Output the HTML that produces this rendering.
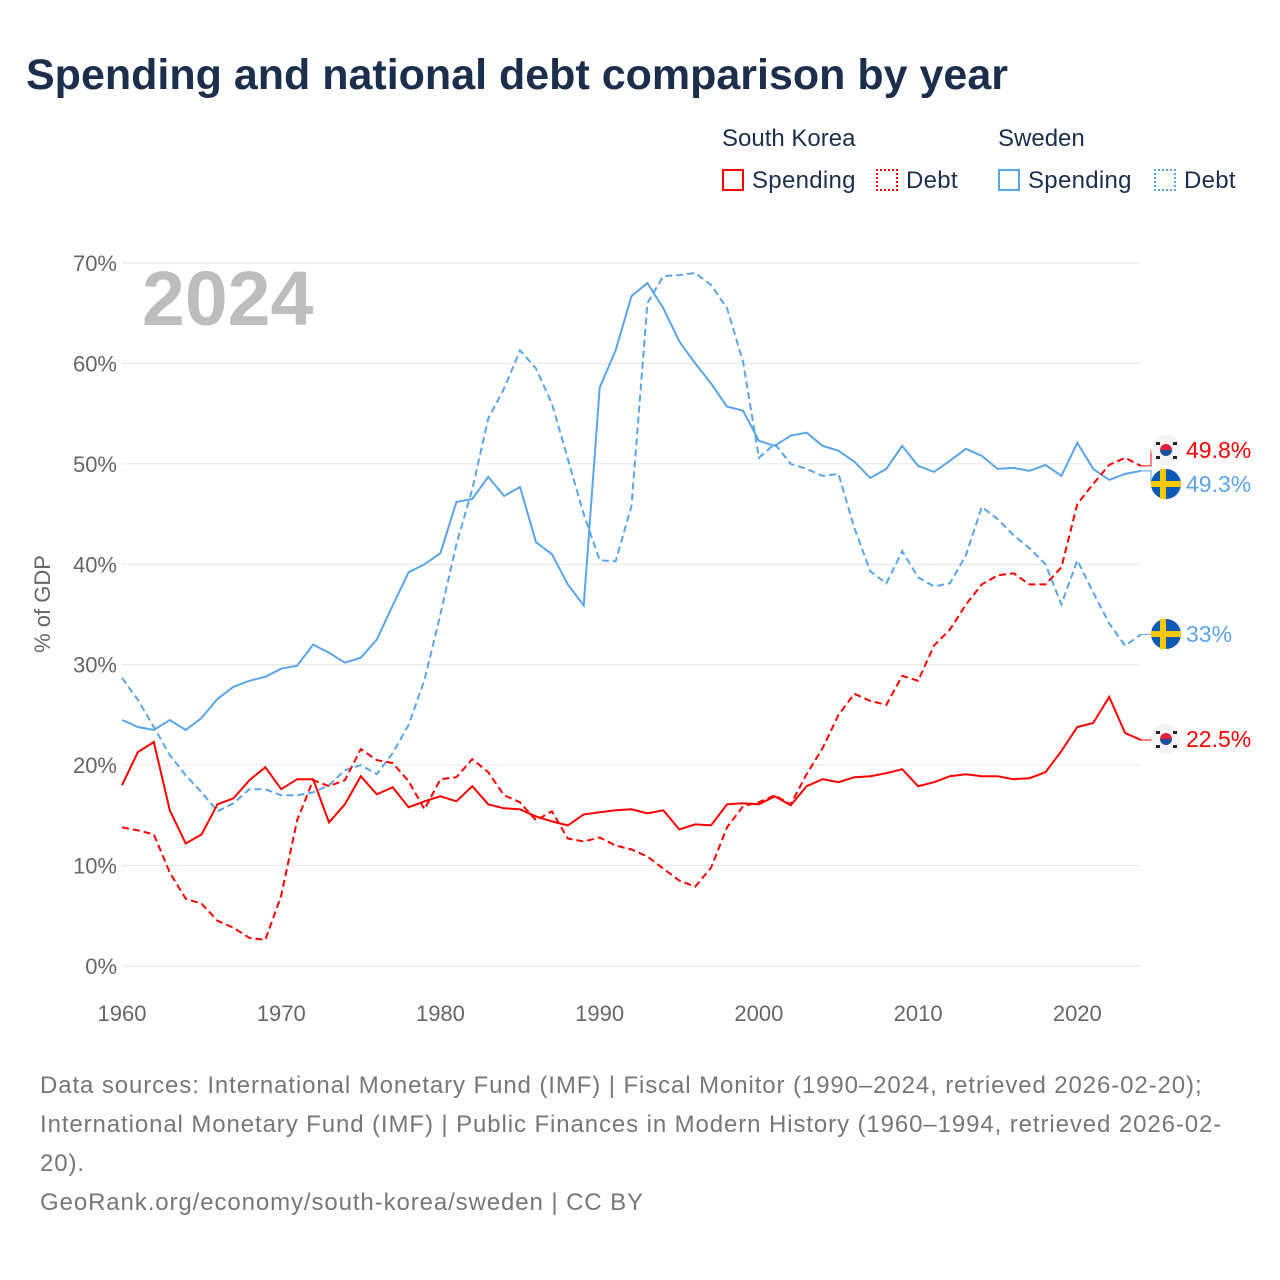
<!DOCTYPE html>
<html><head><meta charset="utf-8">
<style>
body{margin:0;background:#fff;font-family:"Liberation Sans",sans-serif;}
#wrap{position:relative;width:1280px;height:1280px;overflow:hidden;}
.t{position:absolute;white-space:nowrap;}
</style></head><body>
<div id="wrap">
<div class="t" style="left:26px;top:51px;font-size:43px;font-weight:bold;color:#1b2f4d;">Spending and national debt comparison by year</div>
<div class="t" style="left:722px;top:125px;font-size:24px;color:#1b2f4d;">South Korea</div>
<div class="t" style="left:998px;top:125px;font-size:24px;color:#1b2f4d;">Sweden</div>
<div class="t" style="left:722px;top:167px;font-size:24px;color:#1b2f4d;letter-spacing:0.3px"><span style="display:inline-block;width:22px;height:22px;border:2px solid #f00;box-sizing:border-box;vertical-align:-3px;margin-right:8px"></span>Spending</div>
<div class="t" style="left:876px;top:167px;font-size:24px;color:#1b2f4d;letter-spacing:0.3px"><span style="display:inline-block;width:22px;height:22px;border:2px dotted #f00;box-sizing:border-box;vertical-align:-3px;margin-right:8px"></span>Debt</div>
<div class="t" style="left:998px;top:167px;font-size:24px;color:#1b2f4d;letter-spacing:0.3px"><span style="display:inline-block;width:22px;height:22px;border:2px solid #5aa5ea;box-sizing:border-box;vertical-align:-3px;margin-right:8px"></span>Spending</div>
<div class="t" style="left:1154px;top:167px;font-size:24px;color:#1b2f4d;letter-spacing:0.3px"><span style="display:inline-block;width:22px;height:22px;border:2px dotted #5aa5ea;box-sizing:border-box;vertical-align:-3px;margin-right:8px"></span>Debt</div>
<svg id="chart" width="1280" height="1280" style="position:absolute;left:0;top:0"></svg>
<div class="t" style="left:40px;top:1066px;font-size:24px;line-height:39px;color:#777;letter-spacing:0.9px;">Data sources: International Monetary Fund (IMF) | Fiscal Monitor (1990–2024, retrieved 2026-02-20);<br>International Monetary Fund (IMF) | Public Finances in Modern History (1960–1994, retrieved 2026-02-<br>20).<br>GeoRank.org/economy/south-korea/sweden | CC BY</div>
</div>
<script>
const startYear = 1960;
const yTicks = [0,10,20,30,40,50,60,70];
const xTicks = [1960,1970,1980,1990,2000,2010,2020];
const seSpending = [24.5,23.8,23.5,24.5,23.5,24.7,26.6,27.8,28.4,28.8,29.6,29.9,32.0,31.2,30.2,30.7,32.5,35.9,39.2,40.0,41.1,46.2,46.5,48.7,46.8,47.7,42.2,41.0,38.0,35.9,57.6,61.3,66.7,68.0,65.5,62.2,60.0,58.0,55.7,55.3,52.3,51.8,52.8,53.1,51.8,51.3,50.2,48.6,49.5,51.8,49.8,49.2,50.3,51.5,50.8,49.5,49.6,49.3,49.9,48.8,52.1,49.5,48.4,49.0,49.3];
const seDebt = [28.7,26.5,23.8,21.0,19.0,17.3,15.4,16.2,17.6,17.6,17.0,17.0,17.3,18.0,19.5,20.0,19.1,21.2,24.0,28.5,35.0,42.0,47.5,54.5,57.5,61.3,59.5,56.0,50.5,45.0,40.4,40.3,45.8,66.0,68.7,68.8,69.0,67.8,65.5,60.2,50.6,52.0,50.0,49.5,48.8,49.0,43.6,39.3,38.1,41.3,38.7,37.8,38.1,40.9,45.7,44.5,42.9,41.6,40.0,36.0,40.4,37.2,34.1,31.9,33.0];
const krSpending = [18.0,21.3,22.3,15.5,12.2,13.1,16.1,16.7,18.5,19.8,17.6,18.6,18.6,14.3,16.1,18.9,17.1,17.8,15.8,16.4,16.9,16.4,17.9,16.1,15.7,15.6,14.9,14.4,14.0,15.1,15.3,15.5,15.6,15.2,15.5,13.6,14.1,14.0,16.1,16.2,16.1,16.9,16.0,17.9,18.6,18.3,18.8,18.9,19.2,19.6,17.9,18.3,18.9,19.1,18.9,18.9,18.6,18.7,19.3,21.4,23.8,24.2,26.8,23.2,22.5];
const krDebt = [13.8,13.5,13.1,9.3,6.7,6.2,4.5,3.8,2.8,2.6,7.0,14.5,18.5,17.9,18.5,21.6,20.5,20.2,18.4,15.6,18.6,18.8,20.6,19.3,17.0,16.3,14.5,15.4,12.7,12.4,12.8,12.0,11.6,10.9,9.7,8.5,7.9,9.8,13.8,15.9,16.3,17.0,16.1,19.1,21.7,25.0,27.1,26.4,26.0,28.9,28.4,31.9,33.5,36.0,38.0,38.9,39.1,38.0,38.0,39.7,46.0,48.0,49.9,50.6,49.8];

const NS='http://www.w3.org/2000/svg';
const svg=document.getElementById('chart');
const X=y=>122+(y-1960)*(1141-122)/64;
const Y=v=>966-v*(966-263)/70;
function mk(tag,attrs,parent){const e=document.createElementNS(NS,tag);for(const k in attrs)e.setAttribute(k,attrs[k]);(parent||svg).appendChild(e);return e;}

yTicks.forEach(v=>{
  const l=mk('line',{x1:122,x2:1141,y1:Y(v),y2:Y(v),stroke:'#e6e6e6','stroke-width':1});
  
  
  const t=mk('text',{x:117,y:Y(v)+8,'text-anchor':'end','font-size':22,fill:'#666','font-family':'Liberation Sans, sans-serif'});
  t.textContent=v+'%';
  
  
});
xTicks.forEach(yr=>{
  const t=mk('text',{x:X(yr),y:1021,'text-anchor':'middle','font-size':22,fill:'#666','font-family':'Liberation Sans, sans-serif'});
  t.textContent=yr;
  
  
});
const yt=mk('text',{x:0,y:0,transform:'translate(50,604) rotate(-90)','text-anchor':'middle','font-size':22,fill:'#666','font-family':'Liberation Sans, sans-serif'});
yt.textContent='% of GDP';


const yr=mk('text',{x:142,y:325,'font-size':77,'font-weight':'bold',fill:'#bdbdbd','font-family':'Liberation Sans, sans-serif'});
yr.textContent='2024';



function line(data,color,dash,name){
  const d=data.map((v,i)=>(i?'L':'M')+X(startYear+i).toFixed(1)+','+Y(v).toFixed(1)).join('');
  const p=mk('path',{d:d,fill:'none',stroke:color,'stroke-width':2,'stroke-dasharray':dash?'7,4':'none'});
  
  
}
line(seDebt,'#5aa5ea',true,'sweden-debt-line');
line(seSpending,'#5aa5ea',false,'sweden-spending-line');
line(krDebt,'#f00',true,'korea-debt-line');
line(krSpending,'#f00',false,'korea-spending-line');

function flag(cx,cy,type){
  const g=mk('g',{});
  
  
  if(type==='sweden'){
    mk('circle',{cx:cx,cy:cy,r:15,fill:'#0b5bb5'},g);
    mk('rect',{x:cx-15,y:cy-3,width:30,height:6,fill:'#f8c800'},g);
    mk('rect',{x:cx-6,y:cy-15,width:6,height:30,fill:'#f8c800'},g);
  }else{
    mk('circle',{cx:cx,cy:cy,r:15,fill:'#f4f4f4'},g);
    mk('path',{d:`M${cx-6},${cy} A6,6 0 0 1 ${cx+6},${cy}Z`,fill:'#e0203a'},g);
    mk('path',{d:`M${cx-6},${cy} A6,6 0 0 0 ${cx+6},${cy}Z`,fill:'#1a4fa0'},g);
    [[-10,-8],[7,-8],[-10,6],[7,6]].forEach(o=>mk('rect',{x:cx+o[0],y:cy+o[1],width:4,height:3,fill:'#222'},g));
  }
}
const last=seSpending.length-1, lx=X(startYear+last);
function endLabel(v,ly,color,type,txt,name){
  mk('path',{d:`M${lx},${Y(v)} H${lx+10} V${ly} H${lx+15}`,fill:'none',stroke:color,'stroke-width':1});
  flag(1166,ly,type);
  const t=mk('text',{x:1186,y:ly+8,'font-size':23,fill:color,'font-family':'Liberation Sans, sans-serif'});
  t.textContent=txt;
  
  
}
endLabel(krDebt[last],450,'#f00','korea',krDebt[last]+'%','korea-debt-end-label');
endLabel(seSpending[last],484,'#5aa5ea','sweden',seSpending[last]+'%','sweden-spending-end-label');
endLabel(seDebt[last],634,'#5aa5ea','sweden',seDebt[last]+'%','sweden-debt-end-label');
endLabel(krSpending[last],739,'#f00','korea',krSpending[last]+'%','korea-spending-end-label');
</script>
</body></html>
